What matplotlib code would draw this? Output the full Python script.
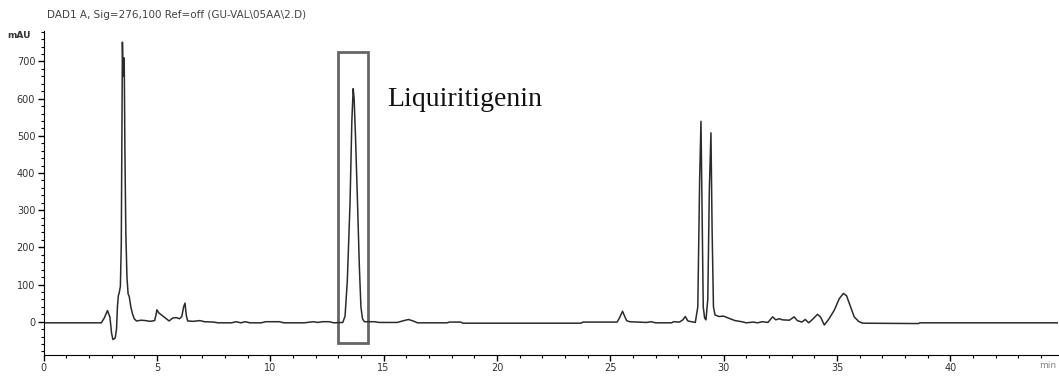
import matplotlib.pyplot as plt
from matplotlib.patches import Rectangle
from matplotlib.ticker import MultipleLocator

# chromatogram trace (time in min, signal in mAU)
time_min = [
    0.0, 2.55, 2.68, 2.82, 2.93, 3.0, 3.06, 3.16, 3.22, 3.26, 3.3, 3.34, 3.39,
    3.43, 3.46, 3.48, 3.51, 3.54, 3.56, 3.59, 3.63, 3.68, 3.73, 3.78, 3.85,
    3.92, 4.0, 4.1, 4.3, 4.5, 4.7, 4.9, 4.96, 5.0, 5.08, 5.25, 5.4, 5.54,
    5.7, 5.85, 6.0, 6.1, 6.18, 6.24, 6.3, 6.36, 6.6, 6.9, 7.1, 7.5, 7.7,
    8.3, 8.5, 8.7, 8.9, 9.1, 9.6, 9.8, 10.4, 10.6, 11.5, 11.9, 12.1, 12.3,
    12.6, 12.8, 13.2, 13.3, 13.4, 13.52, 13.6, 13.66, 13.7, 13.76, 13.85,
    13.93, 14.0, 14.07, 14.15, 14.6, 14.8, 15.6, 15.9, 16.1, 16.3, 16.5,
    17.8, 17.9, 18.4, 18.5, 23.7, 23.8, 25.3, 25.42, 25.54, 25.63, 25.72,
    25.85, 26.6, 26.8, 27.0, 27.7, 27.8, 28.05, 28.2, 28.31, 28.42, 28.75,
    28.86, 28.94, 29.0, 29.05, 29.1, 29.16, 29.22, 29.3, 29.37, 29.44,
    29.49, 29.55, 29.62, 29.8, 30.0, 30.2, 30.5, 30.8, 31.0, 31.3, 31.5,
    31.7, 31.95, 32.16, 32.3, 32.45, 32.6, 32.9, 33.11, 33.25, 33.45, 33.6,
    33.75, 33.95, 34.14, 34.28, 34.44, 34.65, 34.88, 35.1, 35.28, 35.42,
    35.6, 35.76, 35.95, 36.13, 38.6, 38.65, 44.8,
]
signal_mau = [
    -3, -3, 10, 30, 12, -30, -48, -44, -20, 41, 70, 78, 95,
    210, 540, 752, 660, 710, 700, 460, 240, 120, 75, 68, 40,
    22, 8, 2, 4, 3, 1, 3, 18, 32, 24, 16, 9, 2,
    10, 11, 8, 14, 40, 50, 16, 2, 1, 3, 0, -1, -3,
    -3, 0, -3, 0, -3, -3, 0, 0, -3, -3, 0, -2, 0,
    0, -3, -2, 15, 110, 320, 540, 627, 600, 500, 320,
    150, 40, 8, 0, 0, -2, -2, 3, 6, 2, -3,
    -3, -1, -1, -4, -4, -1, -1, 12, 28, 15, 3,
    0, -2, 0, -3, -3, 0, -1, 5, 14, 2, -2,
    40, 380, 539, 300, 40, 10, 5, 60, 360, 508,
    250, 40, 18, 14, 15, 10, 3, 0, -3, -1, -3,
    0, -2, 13, 5, 8, 5, 4, 13, 3, -1, 6,
    -3, 8, 20, 12, -9, 8, 31, 62, 76, 70,
    40, 13, 1, -4, -5, -3, -3,
]

box_start, box_end = 12.99, 14.32
box_low, box_high = -57, 725
peak_label = "Liquiritigenin"
title = "DAD1 A, Sig=276,100 Ref=off (GU-VAL\\05AA\\2.D)"

fig = plt.figure(figsize=(10.59, 3.76), dpi=100)
ax = fig.add_axes([0.0411, 0.0559, 0.958, 0.8617])

ax.plot(time_min, signal_mau, color="#2b2b2b", linewidth=1.1)

ax.add_patch(Rectangle((box_start, box_low), box_end - box_start, box_high - box_low,
                       fill=False, edgecolor="#666666", linewidth=2.0))
ax.text(15.15, 597, peak_label, family="Liberation Serif", fontsize=20,
        va="center", ha="left", color="#111111")

ax.set_xlim(0, 44.75)
ax.set_ylim(-89.5, 782)
ax.xaxis.set_major_locator(MultipleLocator(5))
ax.xaxis.set_minor_locator(MultipleLocator(1))
ax.yaxis.set_minor_locator(MultipleLocator(20))
ax.set_yticks([0, 100, 200, 300, 400, 500, 600, 700])
ax.tick_params(which="major", direction="out", length=4, width=1,
               labelsize=7, labelcolor="#333333", pad=2)
ax.tick_params(which="minor", direction="out", length=2, width=0.8)

for side in ["top", "right"]:
    ax.spines[side].set_visible(False)

fig.text(47 / 1059, 1 - 15 / 376, title, fontsize=7.5, color="#444444", va="center")
fig.text(7 / 1059, 1 - 35 / 376, "mAU", fontsize=6.5, fontweight="bold",
         color="#333333", va="center")
fig.text(1056 / 1059, 1 - 366 / 376, "min", fontsize=6.5, color="#888888",
         va="center", ha="right")

plt.savefig("out.png", dpi=100)
